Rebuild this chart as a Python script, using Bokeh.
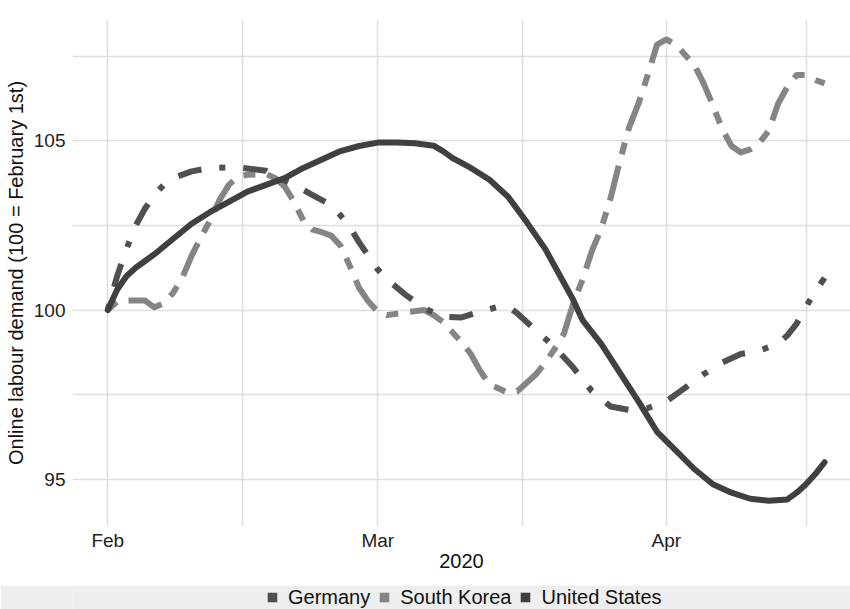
import pandas as pd
from bokeh.plotting import figure
from bokeh.layouts import column
from bokeh.models import (Range1d, FixedTicker, DatetimeTickFormatter, Legend,
                          LegendItem)
from bokeh.embed import file_html
from bokeh.resources import INLINE

# ---------------- data ----------------
start_date = "2020-02-01"
x_tick_dates = ["2020-02-01", "2020-03-01", "2020-04-01"]
x_minor_dates = ["2020-02-15 12:00", "2020-03-16 12:00", "2020-04-16 00:00"]
y_ticks = [95, 100, 105]
y_minor_ticks = [97.5, 102.5, 107.5]
countries = ["Germany", "South Korea", "United States"]

germany_days = [0, 1, 2, 3, 4, 5, 6, 7, 9, 11, 14, 17, 18, 20, 22, 24, 25, 26, 27,
                28, 29, 30, 32, 34, 36, 38, 40, 42, 43, 44, 46, 48, 50, 52, 54, 56,
                58, 60, 62, 64, 66, 68, 70, 72, 73, 74, 75, 76, 77]
germany_vals = [100.0, 101.0, 101.8, 102.5, 103.0, 103.4, 103.7, 103.9, 104.1, 104.2,
                104.22, 104.12, 103.95, 103.7, 103.4, 103.1, 102.8, 102.45, 102.0,
                101.6, 101.2, 100.9, 100.45, 100.05, 99.8, 99.78, 99.95, 100.1, 100.1,
                99.9, 99.4, 98.9, 98.3, 97.6, 97.15, 97.05, 97.1, 97.3, 97.7, 98.1,
                98.45, 98.7, 98.8, 99.0, 99.25, 99.6, 100.1, 100.55, 100.95]

korea_days = [0, 1, 2, 4, 5, 6, 7, 8, 9, 10, 11, 12, 13, 14, 15, 17, 18, 19, 20, 21,
              22, 23, 24, 25, 26, 27, 28, 29, 30, 32, 34, 35, 36, 37, 38, 39, 40, 41,
              42, 43, 44, 45, 46, 47, 48, 49, 50, 51, 52, 53, 54, 55, 56, 57, 58, 59,
              60, 61, 62, 63, 64, 65, 66, 67, 68, 69, 70, 71, 72, 73, 74, 75, 76, 77]
korea_vals = [100.0, 100.25, 100.28, 100.28, 100.08, 100.2, 100.5, 100.95, 101.6,
              102.15, 102.65, 103.25, 103.7, 103.95, 104.0, 104.02, 103.9, 103.65,
              103.2, 102.65, 102.38, 102.3, 102.2, 101.9, 101.3, 100.65, 100.25, 99.95,
              99.85, 99.93, 100.0, 99.85, 99.65, 99.35, 99.05, 98.7, 98.2, 97.8, 97.68,
              97.55, 97.6, 97.85, 98.1, 98.45, 98.85, 99.3, 100.2, 100.9, 101.75,
              102.4, 103.3, 104.4, 105.4, 106.1, 106.95, 107.85, 108.0, 107.85, 107.55,
              107.25, 106.7, 106.05, 105.35, 104.85, 104.66, 104.75, 104.95, 105.3,
              106.1, 106.6, 106.95, 106.95, 106.8, 106.7]

us_days = [0, 1, 2, 3, 5, 7, 9, 11, 13, 15, 17, 19, 21, 23, 25, 27, 29, 31, 33, 35,
           36, 37, 39, 41, 43, 45, 47, 49, 50, 51, 53, 55, 57, 59, 61, 63, 65, 67, 69,
           71, 73, 74, 75, 76, 77]
us_vals = [100.0, 100.6, 101.0, 101.25, 101.65, 102.1, 102.55, 102.9, 103.2, 103.5,
           103.7, 103.9, 104.2, 104.45, 104.7, 104.85, 104.95, 104.95, 104.93, 104.86,
           104.7, 104.5, 104.2, 103.85, 103.35, 102.6, 101.8, 100.8, 100.3, 99.7, 99.0,
           98.15, 97.3, 96.4, 95.85, 95.3, 94.85, 94.6, 94.42, 94.36, 94.4, 94.6, 94.85,
           95.15, 95.5]

# ---------------- helpers ----------------
t0 = pd.Timestamp(start_date)


def to_dates(days):
    return [t0 + pd.Timedelta(days=d) for d in days]


def to_ms(ts_list):
    return [pd.Timestamp(t).value / 1e6 for t in ts_list]


FONT = "Liberation Sans"

p = figure(
    x_axis_type="datetime",
    width=850, height=585,
    min_border_left=72, min_border_right=0, min_border_top=19, min_border_bottom=59,
    output_backend="svg", toolbar_location=None,
    x_range=Range1d(t0 - pd.Timedelta(days=3.79), t0 + pd.Timedelta(days=79.78)),
    y_range=Range1d(93.6, 108.59),
)
p.outline_line_color = None
p.background_fill_color = "white"
p.border_fill_color = "white"

# ticks and grids
p.xaxis.ticker = FixedTicker(ticks=to_ms(x_tick_dates), minor_ticks=to_ms(x_minor_dates))
p.yaxis.ticker = FixedTicker(ticks=y_ticks, minor_ticks=y_minor_ticks)
p.xaxis.formatter = DatetimeTickFormatter(
    microseconds="%b", milliseconds="%b", seconds="%b", minsec="%b", minutes="%b",
    hourmin="%b", hours="%b", days="%b", months="%b", years="%b")

for g in (p.xgrid, p.ygrid):
    g.grid_line_color = "#dedede"
    g.grid_line_width = 1.5
    g.minor_grid_line_color = "#dedede"
    g.minor_grid_line_width = 1.5

for ax in (p.xaxis, p.yaxis):
    ax.axis_line_color = None
    ax.major_tick_line_color = None
    ax.minor_tick_line_color = None
    ax.major_tick_out = 0
    ax.major_tick_in = 0
    ax.minor_tick_out = 0
    ax.minor_tick_in = 0
    ax.major_label_text_font = FONT
    ax.major_label_text_font_size = "19px"
    ax.major_label_text_color = "#222222"
    ax.axis_label_text_font = FONT
    ax.axis_label_text_font_size = "20px"
    ax.axis_label_text_font_style = "normal"
    ax.axis_label_text_color = "#111111"

p.xaxis.axis_label = "2020"
p.yaxis.axis_label = "Online labour demand (100 = February 1st)"
p.xaxis.major_label_standoff = 3
p.xaxis.axis_label_standoff = 0
p.yaxis.major_label_standoff = 7
p.yaxis.axis_label_standoff = 4

# lines
col_de = "#505050"
col_kr = "#858585"
col_us = "#404040"
p.line(to_dates(korea_days), korea_vals, line_color=col_kr, line_width=6,
       line_dash="12 12 36 12", line_cap="butt", line_join="round")
p.line(to_dates(germany_days), germany_vals, line_color=col_de, line_width=6,
       line_dash="6 18 24 18", line_cap="butt", line_join="round")
p.line(to_dates(us_days), us_vals, line_color=col_us, line_width=6,
       line_cap="round", line_join="round")

# ---------------- legend strip (separate small figure) ----------------
lp = figure(width=850, height=24, min_border=0, output_backend="svg",
            toolbar_location=None, x_range=Range1d(0, 1), y_range=Range1d(0, 1))
lp.axis.visible = False
lp.grid.visible = False
lp.outline_line_color = None
lp.background_fill_color = "#eeeeee"
lp.border_fill_color = "#eeeeee"

nan = float("nan")
keys = []
for name, col in zip(countries, [col_de, col_kr, col_us]):
    r = lp.scatter(x=[nan], y=[nan], marker="square", size=10, fill_color=col,
                   line_color=None)
    keys.append(LegendItem(label=name, renderers=[r]))

legend = Legend(items=keys, orientation="horizontal", location=(188, 0),
                glyph_width=24, glyph_height=24, label_standoff=4, spacing=2,
                padding=0, margin=0, label_height=24,
                label_text_font=FONT, label_text_font_size="20px",
                label_text_color="#111111",
                background_fill_alpha=0, border_line_color=None)
lp.add_layout(legend)

layout = column(p, lp, spacing=0)
open("out.html", "w").write(file_html(layout, INLINE))
